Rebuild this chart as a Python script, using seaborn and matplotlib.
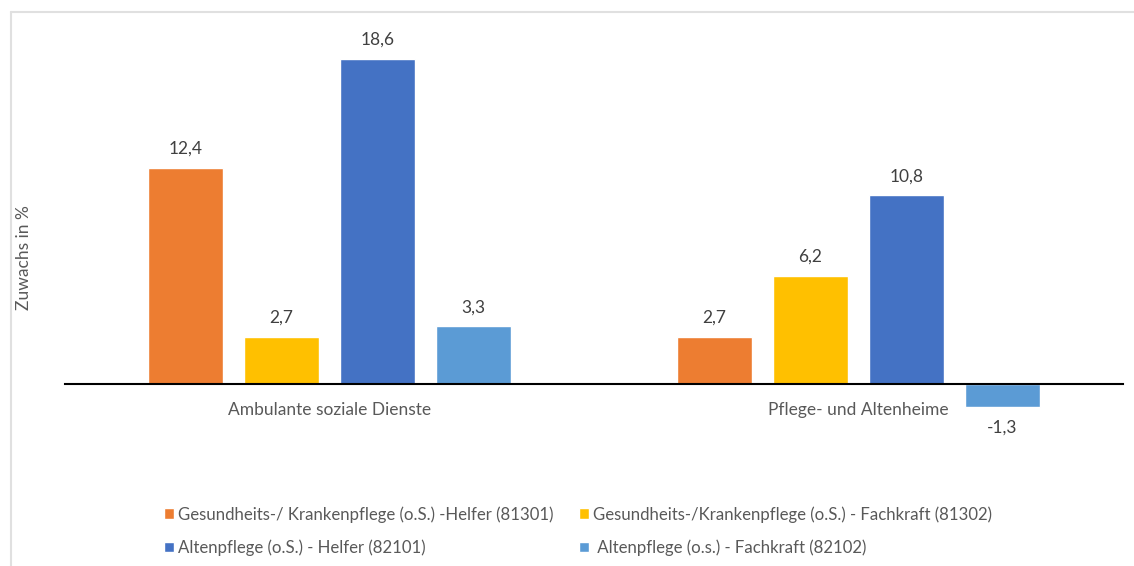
import pandas as pd
import numpy as np
import matplotlib.pyplot as plt
import seaborn as sns
from matplotlib.lines import Line2D

categories = ["Ambulante soziale Dienste", "Pflege- und Altenheime"]
series = [
    "Gesundheits-/ Krankenpflege (o.S.) -Helfer (81301)",
    "Gesundheits-/Krankenpflege (o.S.) - Fachkraft (81302)",
    "Altenpflege (o.S.) - Helfer (82101)",
    " Altenpflege (o.s.) - Fachkraft (82102)",
]
values_ambulant = [12.4, 2.7, 18.6, 3.3]
values_heime = [2.7, 6.2, 10.8, -1.3]
colors = ["#ED7D31", "#FFC000", "#4472C4", "#5B9BD5"]

df = pd.DataFrame({
    "Bereich": [categories[0]] * 4 + [categories[1]] * 4,
    "Beruf": series * 2,
    "Wert": values_ambulant + values_heime,
})

sns.set_style("white")
plt.rcParams['font.family'] = ['Lato', 'DejaVu Sans']
grey = "#595959"

fig = plt.figure(figsize=(11.34, 5.66), dpi=100)
ax = fig.add_axes([65 / 1134, 1 - 440 / 566, 1058 / 1134, 400 / 566])

sns.barplot(data=df, x="Bereich", y="Wert", hue="Beruf", order=categories,
            hue_order=series, palette=colors, width=0.726, gap=0.22,
            saturation=1, ax=ax, legend=True)

ax.set_xlim(-0.5, 1.5)
ax.set_ylim(-3.2, 19.7)

# value labels
for cont in ax.containers:
    for bar in cont:
        h = bar.get_height()
        x = bar.get_x() + bar.get_width() / 2
        txt = f"{h:.1f}".replace(".", ",")
        if h >= 0:
            ax.annotate(txt, (x, h), xytext=(0, 8), textcoords="offset points",
                        ha="center", va="bottom", fontsize=12.5, color="#404040")
        else:
            ax.annotate(txt, (x, h), xytext=(0, -9), textcoords="offset points",
                        ha="center", va="top", fontsize=12.5, color="#404040")

for s in ["top", "right", "left"]:
    ax.spines[s].set_visible(False)
ax.spines["bottom"].set_position(("data", 0))
ax.spines["bottom"].set_color("black")
ax.spines["bottom"].set_linewidth(1.5)
ax.set_yticks([])
ax.tick_params(axis="x", length=0, pad=13, labelsize=12.5, labelcolor=grey)
ax.set_xlabel("")
ax.set_ylabel("Zuwachs in %", fontsize=12.5, color=grey)
ax.yaxis.set_label_coords(-0.031, 0.455)

handles, labels = ax.get_legend_handles_labels()
ax.get_legend().remove()
order = [0, 2, 1, 3]
fig.legend([handles[i] for i in order], [labels[i] for i in order],
           loc="center", bbox_to_anchor=(578 / 1134, 1 - 531 / 566),
           ncol=2, frameon=False, fontsize=12.1, labelcolor=grey,
           handlelength=0.6, handleheight=0.6, handletextpad=0.25,
           columnspacing=1.5, labelspacing=1.0)

# light frame like the exported chart area
fig.add_artist(Line2D([11 / 1134, 1], [1 - 12 / 566] * 2, color="#e0e0e0", lw=1.5))
fig.add_artist(Line2D([11 / 1134] * 2, [0, 1 - 12 / 566], color="#e0e0e0", lw=1.5))

fig.savefig("out.png", dpi=100)
